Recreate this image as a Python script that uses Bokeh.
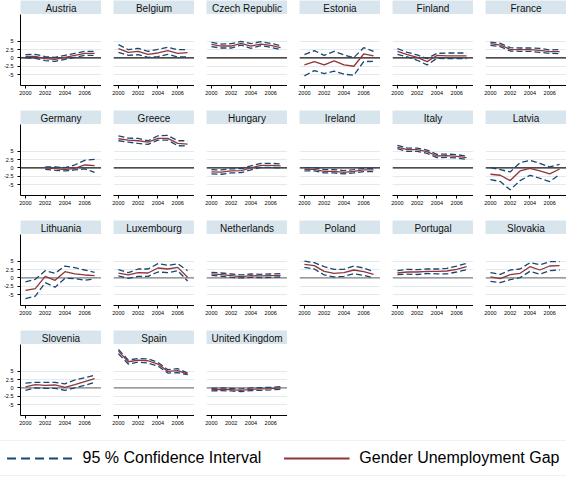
from bokeh.plotting import figure
from bokeh.layouts import column, row
from bokeh.models import Range1d, FixedTicker, Span, Label, Legend, LegendItem
from bokeh.embed import file_html
from bokeh.resources import INLINE

NaN = float("nan")

years = [2000, 2001, 2002, 2003, 2004, 2005, 2006, 2007]
x_ticks = [2000, 2002, 2004, 2006]
x_tick_labels = ["2000", "2002", "2004", "2006"]
y_ticks = [-5, -2.5, 0, 2.5, 5]
y_tick_labels = ["-5", "-2.5", "0", "2.5", "5"]

countries = ["Austria", "Belgium", "Czech Republic", "Estonia", "Finland", "France",
             "Germany", "Greece", "Hungary", "Ireland", "Italy", "Latvia",
             "Lithuania", "Luxembourg", "Netherlands", "Poland", "Portugal", "Slovakia",
             "Slovenia", "Spain", "United Kingdom"]

gap_austria = [0.5, 0.5, -0.2, -0.4, 0.2, 0.8, 1.4, 1.4]
lo_austria = [0.0, -0.1, -0.8, -1.0, -0.4, 0.2, 0.8, 0.8]
hi_austria = [1.0, 1.1, 0.4, 0.2, 0.8, 1.4, 2.0, 2.0]

gap_belgium = [2.8, 1.7, 2.0, 1.1, 1.5, 2.2, 1.4, 1.6]
lo_belgium = [1.7, 0.8, 1.0, 0.2, 0.4, 1.1, 0.3, 0.3]
hi_belgium = [4.0, 2.5, 2.9, 2.0, 2.6, 3.2, 2.5, 2.5]

gap_czech = [4.1, 3.6, 3.6, 4.4, 3.6, 4.2, 3.8, 3.1]
lo_czech = [3.4, 3.0, 3.0, 3.9, 2.9, 3.7, 3.2, 2.5]
hi_czech = [4.7, 4.2, 4.3, 5.0, 4.3, 4.9, 4.4, 3.7]

gap_estonia = [-2.1, -1.1, -2.1, -0.9, -2.1, -2.5, 1.2, 0.6]
lo_estonia = [-5.4, -3.8, -4.7, -4.0, -4.9, -5.2, -1.1, -1.0]
hi_estonia = [1.0, 2.2, 0.8, 2.0, 0.9, 0.1, 3.1, 2.0]

gap_finland = [2.0, 1.0, 0.2, -1.1, 0.75, 0.6, 0.6, 0.6]
lo_finland = [1.1, 0.3, -0.7, -2.1, -0.1, -0.2, -0.2, -0.2]
hi_finland = [2.8, 1.7, 0.9, -0.2, 1.4, 1.5, 1.5, 1.5]

gap_france = [4.3, 3.9, 2.6, 2.5, 2.5, 2.3, 1.9, 1.9]
lo_france = [3.8, 3.4, 2.1, 2.0, 2.0, 1.7, 1.4, 1.3]
hi_france = [4.8, 4.4, 3.1, 3.0, 3.0, 2.9, 2.4, 2.5]

gap_germany = [NaN, NaN, 0.0, -0.2, -0.5, -0.1, 0.9, 0.7]
lo_germany = [NaN, NaN, -0.4, -0.7, -0.9, -0.6, -0.3, -1.3]
hi_germany = [NaN, NaN, 0.3, 0.3, 0.1, 0.9, 2.3, 2.6]

gap_greece = [8.8, 8.4, 8.2, 7.8, 8.9, 8.9, 7.4, 7.2]
lo_greece = [8.2, 7.8, 7.4, 7.1, 8.4, 8.4, 6.7, 6.6]
hi_greece = [9.7, 9.0, 8.9, 8.2, 9.7, 9.8, 8.2, 8.2]

gap_hungary = [-1.15, -1.25, -0.9, -0.8, 0.0, 0.8, 0.8, 0.6]
lo_hungary = [-1.8, -1.9, -1.5, -1.4, -0.6, 0.2, 0.2, 0.0]
hi_hungary = [-0.5, -0.6, -0.3, -0.2, 0.6, 1.4, 1.4, 1.2]

gap_ireland = [-0.4, -0.4, -1.0, -1.0, -1.3, -1.0, -0.6, -0.6]
lo_ireland = [-0.9, -0.9, -1.5, -1.5, -1.8, -1.5, -1.1, -1.1]
hi_ireland = [0.1, 0.1, -0.5, -0.5, -0.8, -0.5, -0.1, -0.1]

gap_italy = [6.3, 5.5, 5.5, 4.9, 3.6, 3.7, 3.5, 3.1]
lo_italy = [5.8, 5.0, 5.0, 4.4, 3.1, 3.2, 3.0, 2.6]
hi_italy = [6.8, 6.0, 6.0, 5.4, 4.1, 4.2, 4.0, 3.6]

gap_latvia = [-1.9, -2.2, -3.8, -0.9, -0.1, -0.9, -1.8, -0.3]
lo_latvia = [-3.5, -4.1, -6.6, -3.8, -2.2, -3.1, -4.1, -2.0]
hi_latvia = [0.1, -0.5, -1.2, 1.6, 2.3, 1.4, 0.3, 1.1]

gap_lithuania = [-3.75, -3.2, 0.5, -0.7, 1.9, 1.25, 0.9, 0.7]
lo_lithuania = [-6.25, -5.5, -1.4, -2.8, -0.1, -0.2, -0.7, -0.3]
hi_lithuania = [-1.2, -0.4, 2.2, 1.4, 3.6, 3.1, 2.4, 1.7]

gap_luxembourg = [1.45, 0.9, 1.6, 1.5, 3.0, 2.7, 3.2, 0.2]
lo_luxembourg = [0.6, -0.1, 0.5, 0.5, 1.8, 1.6, 2.2, -0.9]
hi_luxembourg = [2.5, 1.6, 2.7, 2.7, 4.3, 3.8, 4.3, 2.2]

gap_netherlands = [1.25, 1.0, 0.7, 0.4, 0.7, 0.6, 0.7, 0.8]
lo_netherlands = [0.8, 0.5, 0.2, 0.0, 0.2, 0.1, 0.2, 0.3]
hi_netherlands = [1.7, 1.5, 1.2, 0.9, 1.2, 1.1, 1.2, 1.3]

gap_poland = [4.1, 3.7, 2.0, 1.4, 1.6, 2.4, 1.9, 1.1]
lo_poland = [3.2, 2.7, 0.9, 0.3, 0.5, 1.25, 0.8, 0.0]
hi_poland = [5.1, 4.6, 3.4, 2.6, 2.6, 3.6, 3.0, 1.9]

gap_portugal = [1.5, 1.8, 1.8, 2.0, 2.0, 2.1, 2.6, 3.4]
lo_portugal = [1.0, 1.15, 1.05, 1.35, 1.25, 1.25, 1.8, 2.5]
hi_portugal = [2.2, 2.6, 2.5, 2.7, 2.7, 2.9, 3.6, 4.4]

gap_slovakia = [0.3, -0.2, 1.0, 1.4, 3.4, 2.4, 3.6, 3.7]
lo_slovakia = [-1.0, -1.4, -0.5, 0.1, 2.0, 1.15, 2.2, 2.4]
hi_slovakia = [1.6, 1.1, 2.4, 2.7, 4.6, 4.0, 4.9, 4.9]

gap_slovenia = [0.3, 1.0, 0.8, 0.9, 0.2, 1.0, 1.9, 2.8]
lo_slovenia = [-0.7, 0.0, -0.1, -0.1, -0.7, 0.0, 0.8, 1.7]
hi_slovenia = [1.45, 1.7, 1.7, 1.7, 1.25, 2.4, 3.1, 3.85]

gap_spain = [11.1, 7.9, 8.4, 8.2, 7.2, 5.0, 5.2, 4.2]
lo_spain = [10.3, 7.2, 7.8, 7.5, 6.6, 4.5, 4.6, 4.0]
hi_spain = [11.6, 8.4, 8.9, 8.75, 7.7, 5.5, 5.8, 4.5]

gap_uk = [-0.5, -0.4, -0.5, -0.7, -0.4, -0.3, -0.2, 0.0]
lo_uk = [-0.9, -0.8, -0.9, -1.1, -0.8, -0.7, -0.6, -0.4]
hi_uk = [-0.1, 0.0, -0.1, -0.3, 0.0, 0.1, 0.2, 0.4]

series = {
    "Austria": (gap_austria, lo_austria, hi_austria),
    "Belgium": (gap_belgium, lo_belgium, hi_belgium),
    "Czech Republic": (gap_czech, lo_czech, hi_czech),
    "Estonia": (gap_estonia, lo_estonia, hi_estonia),
    "Finland": (gap_finland, lo_finland, hi_finland),
    "France": (gap_france, lo_france, hi_france),
    "Germany": (gap_germany, lo_germany, hi_germany),
    "Greece": (gap_greece, lo_greece, hi_greece),
    "Hungary": (gap_hungary, lo_hungary, hi_hungary),
    "Ireland": (gap_ireland, lo_ireland, hi_ireland),
    "Italy": (gap_italy, lo_italy, hi_italy),
    "Latvia": (gap_latvia, lo_latvia, hi_latvia),
    "Lithuania": (gap_lithuania, lo_lithuania, hi_lithuania),
    "Luxembourg": (gap_luxembourg, lo_luxembourg, hi_luxembourg),
    "Netherlands": (gap_netherlands, lo_netherlands, hi_netherlands),
    "Poland": (gap_poland, lo_poland, hi_poland),
    "Portugal": (gap_portugal, lo_portugal, hi_portugal),
    "Slovakia": (gap_slovakia, lo_slovakia, hi_slovakia),
    "Slovenia": (gap_slovenia, lo_slovenia, hi_slovenia),
    "Spain": (gap_spain, lo_spain, hi_spain),
    "United Kingdom": (gap_uk, lo_uk, hi_uk),
}

legend_labels = ["95 % Confidence Interval", "Gender Unemployment Gap"]

NAVY = "#1a476f"
MAROON = "#90353b"
STRIP = "#d9e5ec"
GRID = "#e3eaee"
FONT = "Liberation Sans"

FW = 81
FH = 71
NCOL = 6


def make_panel(name, idx):
    col = idx % NCOL
    r = idx // NCOL
    left = 20 if col == 0 else 12
    bottom = 25 if r < 3 else 14
    zero_color = "#111111" if r < 2 else "#7a7a7a"

    strip = figure(width=left + FW, height=14, x_range=Range1d(0, 1), y_range=Range1d(0, 1),
                   toolbar_location=None, output_backend="svg", title=None,
                   x_axis_location=None, y_axis_location=None,
                   min_border_left=left, min_border_right=0, min_border_top=0, min_border_bottom=0,
                   background_fill_color=STRIP, border_fill_color="white", outline_line_color=None)
    strip.grid.visible = False
    strip.add_layout(Label(x=0.5, y=0.45, text=name, text_align="center", text_baseline="middle",
                           text_font_size="10px", text_font=FONT, text_color="#111111"))

    p = figure(width=left + FW, height=FH + bottom,
               x_range=Range1d(1999.5, 2007.7), y_range=Range1d(-8.3, 13.1),
               toolbar_location=None, output_backend="svg", title=None,
               y_axis_location="left" if col == 0 else None,
               min_border_left=left, min_border_right=0, min_border_top=0, min_border_bottom=bottom,
               background_fill_color="white", border_fill_color="white", outline_line_color=None)
    p.xgrid.visible = False
    p.ygrid.ticker = FixedTicker(ticks=[t for t in y_ticks if t != 0])
    p.ygrid.grid_line_color = GRID
    p.ygrid.grid_line_width = 1

    xa = p.xaxis[0]
    xa.ticker = FixedTicker(ticks=x_ticks)
    xa.major_label_overrides = dict(zip(x_ticks, x_tick_labels))
    xa.axis_line_color = "black"
    xa.major_tick_line_color = "black"
    xa.major_tick_out = 3
    xa.major_tick_in = 0
    xa.minor_tick_out = 0
    xa.minor_tick_in = 0
    xa.major_label_standoff = 2
    xa.major_label_text_font_size = "5.5px"
    xa.major_label_text_font = FONT
    xa.major_label_text_color = "black"

    if col == 0:
        ya = p.yaxis[0]
        ya.ticker = FixedTicker(ticks=y_ticks)
        ya.major_label_overrides = dict(zip(y_ticks, y_tick_labels))
        ya.axis_line_color = "black"
        ya.major_tick_line_color = "black"
        ya.major_tick_out = 3
        ya.major_tick_in = 0
        ya.minor_tick_out = 0
        ya.minor_tick_in = 0
        ya.major_label_standoff = 4
        ya.major_label_text_font_size = "5.5px"
        ya.major_label_text_font = FONT
        ya.major_label_text_color = "black"

    p.add_layout(Span(location=0, dimension="width", line_color=zero_color, line_width=1.3,
                      level="underlay"))

    gap, lo, hi = series[name]
    p.line(years, hi, line_color=NAVY, line_width=1.3, line_dash="6 3")
    p.line(years, lo, line_color=NAVY, line_width=1.3, line_dash="6 3")
    p.line(years, gap, line_color=MAROON, line_width=1.3)
    return column(strip, p, spacing=0)


panels = [make_panel(c, i) for i, c in enumerate(countries)]
rows = [row(panels[i:i + NCOL], spacing=0) for i in range(0, len(panels), NCOL)]

total_w = 20 + FW + (NCOL - 1) * (12 + FW)
# legend-only figure: its ranges keep the sample series out of view
lf = figure(width=total_w, height=48, x_range=Range1d(0, 1), y_range=Range1d(100, 101),
            toolbar_location=None, output_backend="svg", title=None,
            x_axis_location=None, y_axis_location=None,
            min_border_left=0, min_border_right=0, min_border_top=0, min_border_bottom=0,
            outline_line_color=None)
lf.grid.visible = False
r1 = lf.line(years, hi_austria, line_color=NAVY, line_width=2, line_dash="9 5")
r2 = lf.line(years, gap_austria, line_color=MAROON, line_width=2)
legend = Legend(items=[LegendItem(label=legend_labels[0], renderers=[r1]),
                       LegendItem(label=legend_labels[1], renderers=[r2])],
                orientation="horizontal", location="bottom_center",
                glyph_width=66, glyph_height=20, label_standoff=10, spacing=22,
                padding=7, margin=1, label_height=20,
                label_text_font_size="16px", label_text_font=FONT, label_text_color="black",
                border_line_color="#dfe6ea", border_line_width=1.5,
                background_fill_color="white", background_fill_alpha=1)
lf.add_layout(legend)

layout = column(*rows, lf, spacing=0)

open("out.html", "w").write(file_html(layout, INLINE))
